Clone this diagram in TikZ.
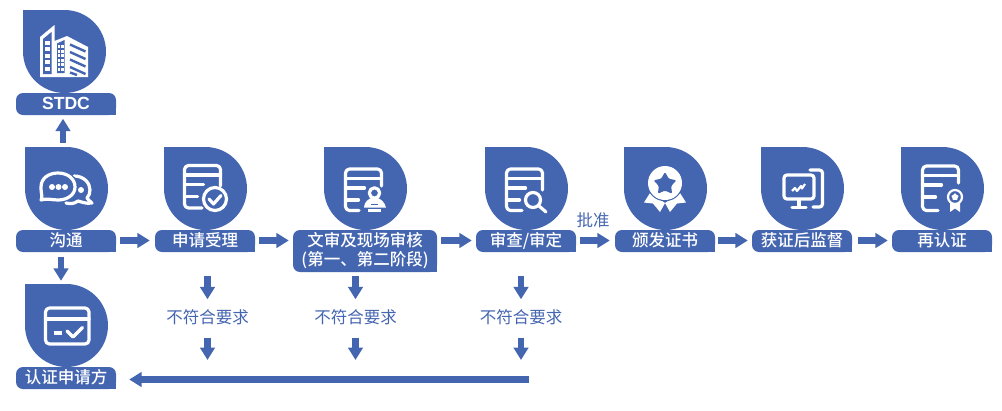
\documentclass[tikz,border=0pt]{standalone}
\usepackage{fontspec}
\setmainfont{Noto Sans CJK SC}
\newfontfamily\medcjk{Noto Sans CJK SC Medium}
\newfontfamily\latinbold{Liberation Sans Bold}
\usetikzlibrary{arrows.meta}
\definecolor{bl}{HTML}{4465AF}
\tikzset{
  dropc/.style={circle,fill=bl,minimum size=83pt,inner sep=0pt},
  labelbox/.style={inner sep=0pt,text=white,align=center,font=\medcjk\fontsize{16.5}{19}\selectfont},
  bluetext/.style={inner sep=0pt,text=bl,minimum height=18pt,font=\fontsize{16.5}{19}\selectfont},
  blockarrow/.style={bl,line width=6.5pt,-{Triangle[length=12.5pt,width=14.5pt]}},
  ic/.style={white,line width=3.2pt,line cap=round,line join=round},
  icthin/.style={white,line width=2pt,line cap=round,line join=round},
}
% drop: name, left, top
\newcommand\dropshape[3]{%
  \node[dropc] (#1) at ({#2+41.5},{#3+41.5}) {};
  \fill[bl] (#2,#3) rectangle ({#2+41.5},{#3+41.5});
}
% label: name, left, top, right, bottom, text
\newcommand\labelshape[6]{%
  \fill[bl,rounded corners=7pt] (#2,#3) rectangle (#4,#5);
  \fill[bl] ({#4-8},{#5-8}) rectangle (#4,#5);
  \node[labelbox,minimum width={(#4-#2)*1pt},minimum height={(#5-#3)*1pt}] (#1) at ({(#2+#4)/2},{(#3+#5)/2-0.5}) {#6};
}
% doc icon: left, top, right, bottom, right side ends at y, bottom ends at x
\newcommand\docicon[6]{%
  \draw[ic,rounded corners=4pt] (#6,#4) -- (#1,#4) -- (#1,#2) -- (#3,#2) -- (#3,#5);
  \draw[ic] (#1,{#2+9.5}) -- (#3,{#2+9.5});
  \draw[ic] (#1,{#2+19}) -- ({#1+19},{#2+19});
  \draw[ic] (#1,{#2+31}) -- ({#1+13},{#2+31});
}
% star: x, y, R, r, colour
\newcommand\starshape[5]{%
  \fill[#5,rounded corners=1.2pt,shift={(#1,#2)}] (-90:#3) -- (-54:#4) -- (-18:#3) -- (18:#4) -- (54:#3) -- (90:#4) -- (126:#3) -- (162:#4) -- (198:#3) -- (234:#4) -- cycle;
}
\begin{document}
\begin{tikzpicture}[x=1pt,y=-1pt]
\useasboundingbox (0,0) rectangle (1002,410);
% drops
\dropshape{dStdc}{23}{10}
\dropshape{dGou}{25}{147}
\dropshape{dShen}{164}{147}
\dropshape{dWen}{324}{147}
\dropshape{dCha}{485}{147}
\dropshape{dBan}{624}{147}
\dropshape{dHuo}{761}{147}
\dropshape{dZai}{901}{147}
\dropshape{dRen}{25}{284}
% labels
\labelshape{stdc}{16}{93}{116}{115}{\latinbold\fontsize{17.6}{19}\selectfont STDC}
\labelshape{gou}{16}{230}{116}{252}{沟通}
\labelshape{shen}{155}{230}{255}{252}{申请受理}
\labelshape{wen}{293}{230}{437}{272}{文审及现场审核\\(第一、第二阶段)}
\labelshape{cha}{476}{230}{576}{252}{审查/审定}
\labelshape{ban}{615}{230}{715}{252}{颁发证书}
\labelshape{huo}{752}{230}{852}{252}{获证后监督}
\labelshape{zai}{892}{230}{992}{252}{再认证}
\labelshape{ren}{16}{367}{116}{389}{认证申请方}
% texts
\node[bluetext] (bz) at (593,220.5) {批准};
\node[bluetext] (bf1) at (207.5,317.5) {不符合要求};
\node[bluetext] (bf2) at (355.5,317.5) {不符合要求};
\node[bluetext] (bf3) at (521,317.5) {不符合要求};
\coordinate (rejEnd) at (529,379.5);
% connectors
\draw[blockarrow,shorten <=4pt,shorten >=4pt] ([xshift=-3.5pt]dGou.north) -- ([xshift=-3pt]stdc.south);
\draw[blockarrow,shorten <=5pt,shorten >=3pt] ([xshift=-5pt]gou.south) -- ([xshift=-5.5pt]dRen.north);
\draw[blockarrow,shorten <=4pt,shorten >=5pt] (gou.east) -- (shen.west);
\draw[blockarrow,shorten <=4pt,shorten >=4pt] (shen.east) -- (shen.east -| wen.west);
\draw[blockarrow,shorten <=4pt,shorten >=4pt] (wen.east |- cha.west) -- (cha.west);
\draw[blockarrow,shorten <=4pt,shorten >=5pt] (cha.east) -- (ban.west);
\draw[blockarrow,shorten <=3pt,shorten >=4pt] (ban.east) -- (huo.west);
\draw[blockarrow,shorten <=6pt,shorten >=4pt] (huo.east) -- (zai.west);
\draw[blockarrow,shorten <=24pt,shorten >=9pt] (shen.south -| bf1.north) -- (bf1.north);
\draw[blockarrow,shorten <=4pt,shorten >=9pt] (wen.south -| bf2.north) -- (bf2.north);
\draw[blockarrow,shorten <=24pt,shorten >=9pt] (cha.south -| bf3.north) -- (bf3.north);
\draw[blockarrow,shorten <=11pt,shorten >=19.5pt] (bf1.south) -- (bf1.south |- rejEnd);
\draw[blockarrow,shorten <=11pt,shorten >=19.5pt] (bf2.south) -- (bf2.south |- rejEnd);
\draw[blockarrow,shorten <=11pt,shorten >=19.5pt] (bf3.south) -- (bf3.south |- rejEnd);
\draw[blockarrow,shorten >=13pt] (rejEnd) -- (ren.east |- rejEnd);
% building icon
\fill[white] (40,37) -- (54.5,25) -- (54.5,41) -- (67,36) -- (88,47) -- (88,77) -- (40,77) -- cycle;
\fill[bl] (43,39) -- (51.5,32) -- (51.5,74) -- (43,74) -- cycle;
\foreach \yy in {40.5,47,53.5,60,66.5}{\fill[white] (45.3,\yy) rectangle (49.5,{\yy+4});}
\fill[bl] (57,43.5) -- (64.5,40) -- (64.5,73) -- (57,73) -- cycle;
\foreach \yy in {45,49.5,54,58.5,63,67.5}{
  \fill[white] (58,\yy) rectangle (60.4,{\yy+3});
  \fill[white] (61.2,\yy) rectangle (63.6,{\yy+3});}
\foreach \yy in {44.5,52,59.5,67}{\draw[bl,line width=2.4pt] (70,\yy) -- (85.5,{\yy+7});}
\draw[bl,line width=2.4pt] (70,72.5) -- (77,75);
% chat icon
\draw[ic] (74,176) .. controls (84,176) and (90,183) .. (90,190) .. controls (90,193) and (89,196) .. (87,198) .. controls (88,200) and (90,201) .. (92,203) .. controls (86,204) and (82,202) .. (78,201) .. controls (74,204) and (70,204) .. (66,203);
\fill[bl] (58,186) ellipse [x radius=20.5,y radius=15];
\draw[ic] (41,200) .. controls (43,197) and (41,195) .. (41,187) .. controls (41,178) and (49,173) .. (58,173) .. controls (68,173) and (75,179) .. (75,187) .. controls (75,195) and (67,200) .. (58,200) .. controls (52,200) and (47,198) .. (41,200) -- cycle;
\foreach \xx in {52,58.5,65}{\fill[white] (\xx,187) circle [radius=3];}
\fill[white] (81,190) circle [radius=3];
% doc with check
\docicon{184.5}{165.5}{220.5}{208}{186}{202}
\draw[ic,fill=bl] (215,199) circle [radius=11.5];
\draw[ic] (209,199) -- (213.5,204) -- (221,195.5);
% doc with person
\docicon{345.5}{169}{381.5}{210.5}{186}{359}
\draw[ic] (374.5,193) circle [radius=5.2];
\fill[white] (374.5,197.5) .. controls (368,197.5) and (364,203) .. (364,207.5) -- (386,207.5) .. controls (385,203) and (381,197.5) .. (374.5,197.5) -- cycle;
\fill[bl] (371,203.5) rectangle (378,205);
\fill[white] (368,209) rectangle (381,211.5);
% doc with magnifier
\docicon{506.5}{169}{542.5}{210.5}{190}{522}
\draw[ic] (533,200) circle [radius=7.5];
\draw[ic] (539,206) -- (546,212);
% award icon
\fill[white] (644,202.5) -- (650,193) -- (665,203) -- (660,212) -- (653,203.5) -- cycle;
\fill[white] (686,202.5) -- (680,193) -- (665,203) -- (670,212) -- (677,203.5) -- cycle;
\draw[bl,line width=1.2pt] (665,183) circle [radius=17.6];
\fill[white] (665,183) circle [radius=17];
\starshape{665}{184}{12}{6.5}{bl}
% monitor icon
\draw[ic,rounded corners=3pt] (784,175) rectangle (814,199);
\draw[ic,rounded corners=3pt] (810,170) -- (822.5,170) -- (822.5,207) -- (813,207);
\draw[ic] (799,200) -- (799,206);
\draw[ic] (792,207.5) -- (806,207.5);
\draw[white,line width=2.2pt,line join=round] (792,191) -- (795,188) -- (797,191) -- (801,186) -- (802,188.5) -- (805,184);
% doc with badge
\docicon{922.5}{166}{958.5}{210.5}{183}{938}
\fill[white] (950,203) -- (950,212) -- (955,208.5) -- (960,212) -- (960,203) -- cycle;
\draw[white,line width=2.2pt,fill=bl] (955,197) circle [radius=7];
\starshape{955}{197}{4.6}{2.2}{white}
% card icon
\draw[ic,rounded corners=4pt] (45.5,308) rectangle (89,344);
\draw[ic] (45.5,319) -- (89,319);
\draw[white,line width=3.2pt] (53.5,333) -- (61.5,333);
\draw[ic] (67,331) -- (73,337) -- (82.5,327.5);
\end{tikzpicture}
\end{document}
